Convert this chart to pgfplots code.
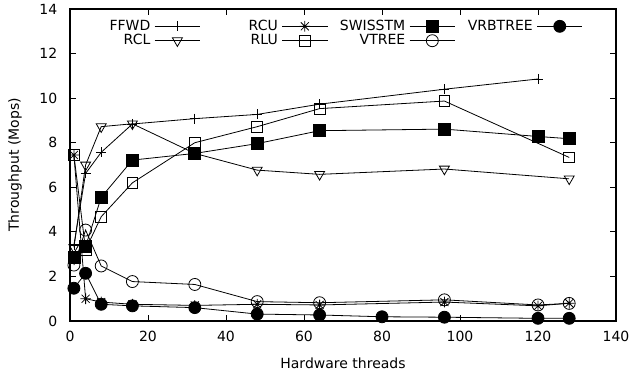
\documentclass[border=0pt]{standalone}
\usepackage{fontspec}
\setmainfont{DejaVu Sans}
\usepackage{pgfplots}
\pgfplotsset{compat=1.18}
\pgfdeclareplotmark{gpstar}{%
  \pgfpathmoveto{\pgfqpoint{-\pgfplotmarksize}{0pt}}\pgfpathlineto{\pgfqpoint{\pgfplotmarksize}{0pt}}%
  \pgfpathmoveto{\pgfqpoint{0pt}{-\pgfplotmarksize}}\pgfpathlineto{\pgfqpoint{0pt}{\pgfplotmarksize}}%
  \pgfpathmoveto{\pgfqpoint{-0.75\pgfplotmarksize}{-0.75\pgfplotmarksize}}\pgfpathlineto{\pgfqpoint{0.75\pgfplotmarksize}{0.75\pgfplotmarksize}}%
  \pgfpathmoveto{\pgfqpoint{-0.75\pgfplotmarksize}{0.75\pgfplotmarksize}}\pgfpathlineto{\pgfqpoint{0.75\pgfplotmarksize}{-0.75\pgfplotmarksize}}%
  \pgfusepathqstroke}
\begin{document}
\begin{tikzpicture}
\begin{axis}[
  name=ax,
  font=\fontsize{10.5}{12.6}\selectfont,
  scale only axis,
  width=409.5pt, height=234pt,
  xmin=0, xmax=140, ymin=0, ymax=14,
  xtick={0,20,...,140}, ytick={0,2,...,14},
  tick align=inside,
  major tick length=4.5pt,
  axis line style={line width=0.8pt},
  every tick/.style={black, line width=0.6pt},
  /pgf/number format/assume math mode=true,
  yticklabel style={xshift=-6pt},
  xticklabel style={yshift=-4pt},
  xlabel={Hardware threads},
  ylabel={Throughput (Mops)},
  x label style={at={(axis description cs:0.5,-0.1346)}, anchor=center},
  y label style={at={(axis description cs:-0.1007,0.5)}, anchor=center, rotate=0},
  legend columns=4,
  legend plot pos=right,
  legend cell align=right,
  legend style={draw=none, fill=none, inner sep=0pt, outer sep=0pt,
    font=\fontsize{10.5}{12.6}\selectfont,
    at={(axis cs:131.5,12.9)}, anchor=east,
    column sep=0pt, row sep=-1.5pt,
    nodes={inner xsep=3pt, inner ysep=1.5pt}},
  legend image code/.code={\draw[#1, mark repeat=2, mark phase=2] plot coordinates {(0pt,0pt) (17pt,0pt) (34pt,0pt)};},
  every axis plot/.append style={black, line width=0.6pt},
]
% FFWD
\addplot[mark=+, mark size=3.75pt] coordinates {(1,3.4)(4,6.62)(8,7.57)(16,8.84)(32,9.08)(48,9.27)(64,9.73)(96,10.4)(120,10.86)};
\addlegendentry{\makebox[55pt][r]{FFWD}}
% RCU
\addplot[mark=gpstar, mark size=4pt] coordinates {(1,7.45)(4,1.0)(8,0.85)(16,0.75)(32,0.7)(48,0.75)(64,0.72)(96,0.85)(120,0.68)(128,0.8)};
\addlegendentry{\makebox[55pt][r]{RCU}}
% SWISSTM
\addplot[mark=square*, mark size=4.5pt, mark options={solid, fill=black}] coordinates {(1,2.86)(4,3.35)(8,5.55)(16,7.22)(32,7.52)(48,7.96)(64,8.54)(96,8.61)(120,8.28)(128,8.18)};
\addlegendentry{\makebox[55pt][r]{SWISSTM}}
% VRBTREE
\addplot[mark=*, mark size=4.5pt, mark options={fill=black}] coordinates {(1,1.47)(4,2.14)(8,0.75)(16,0.68)(32,0.6)(48,0.31)(64,0.27)(80,0.19)(96,0.17)(120,0.12)(128,0.12)};
\addlegendentry{\makebox[55pt][r]{VRBTREE}}
% RCL
\addplot[mark=triangle, mark size=4.3pt, mark options={rotate=180, fill=white}] coordinates {(1,3.3)(4,7.0)(8,8.72)(16,8.85)(32,7.52)(48,6.77)(64,6.58)(96,6.82)(128,6.38)};
\addlegendentry{\makebox[55pt][r]{RCL}}
% RLU
\addplot[mark=square, mark size=4pt] coordinates {(1,7.45)(4,3.2)(8,4.68)(16,6.2)(32,8.0)(48,8.72)(64,9.53)(96,9.87)(128,7.34)};
\addlegendentry{\makebox[55pt][r]{RLU}}
% VTREE
\addplot[mark=o, mark size=4.5pt] coordinates {(1,2.51)(4,4.08)(8,2.47)(16,1.77)(32,1.64)(48,0.87)(64,0.82)(96,0.95)(120,0.72)(128,0.79)};
\addlegendentry{\makebox[55pt][r]{VTREE}}
\end{axis}
\pgfresetboundingbox
\path[use as bounding box] ([shift={(-52.5pt,-40.5pt)}]ax.south west) rectangle ([shift={(11.25pt,6.75pt)}]ax.north east);
\end{tikzpicture}
\end{document}
